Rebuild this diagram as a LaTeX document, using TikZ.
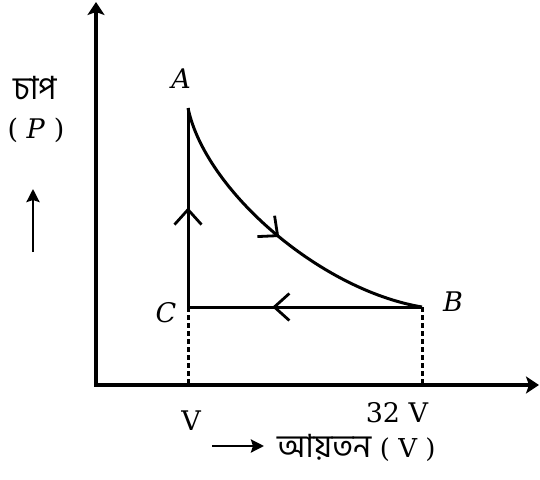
\documentclass[tikz,border=0pt]{standalone}
\usepackage{fontspec}
\setmainfont{DejaVu Serif}
\newfontfamily\bnfont[Script=Bengali]{Hind Siliguri}
\usetikzlibrary{arrows.meta,decorations.markings}
\begin{document}
\begin{tikzpicture}[x=1pt,y=-1pt,
  axis/.style={line width=3.4pt,-{Stealth[length=13pt,width=17pt,inset=3pt]}},
  cycle/.style={line width=3pt},
  guide/.style={line width=3pt,dash pattern=on 5pt off 3pt},
  midarrow/.style={postaction={decorate},decoration={markings,
     mark=at position #1 with {\arrow{Straight Barb[length=15pt,width=27pt,line width=2.8pt]}}}},
  lbl/.style={font=\fontsize{27}{30}\selectfont},
  bn/.style={font=\fontsize{32}{36}\selectfont\bnfont},
  small/.style={line width=2.6pt,-{Stealth[length=13pt,width=13pt,inset=2pt]}}
]
\useasboundingbox (0,0) rectangle (540,479);
\coordinate (O) at (96,385);
\coordinate (Ytop) at (96,2);
\coordinate (Xend) at (539,385);
\coordinate (A) at (188,108);
\coordinate (C) at (188,307);
\coordinate (B) at (422,307);
\coordinate (Cx) at (188,385);
\coordinate (Bx) at (422,385);
\draw[axis] (O) -- (Ytop);
\draw[axis] ([xshift=-2pt]O) -- (Xend);
\draw[guide] (C) -- (Cx);
\draw[guide] (B) -- (Bx);
\draw[cycle,midarrow=0.5] (A) .. controls (205,190) and (320,290) .. (B);
\draw[cycle,midarrow=0.64] (B) -- (C);
\draw[cycle,midarrow=0.5] (C) -- (A);
\node[lbl] (lA) at (181,79) {\textit{A}};
\node[lbl] (lB) at (453,302) {\textit{B}};
\node[lbl] (lC) at (166,313) {\textit{C}};
\node[lbl] (lV) at (191,421) {V};
\node[lbl] (l32) at (397,413) {32 V};
\node[anchor=west,inner sep=0pt] (lvol) at (277,448) {\fontsize{32}{36}\selectfont\bnfont আয়তন\fontsize{26}{30}\selectfont\rmfamily{} ( V )};
\node[bn] (lp1) at (35,88) {চাপ};
\node[lbl] (lp2) at (36,130) {( \textit{P} )};
\coordinate (ua1) at (33,252);
\coordinate (ua2) at (33,189);
\draw[small] (ua1) -- (ua2);
\coordinate (ra1) at (212,446);
\coordinate (ra2) at (264,446);
\draw[small] (ra1) -- (ra2);
\end{tikzpicture}
\end{document}
